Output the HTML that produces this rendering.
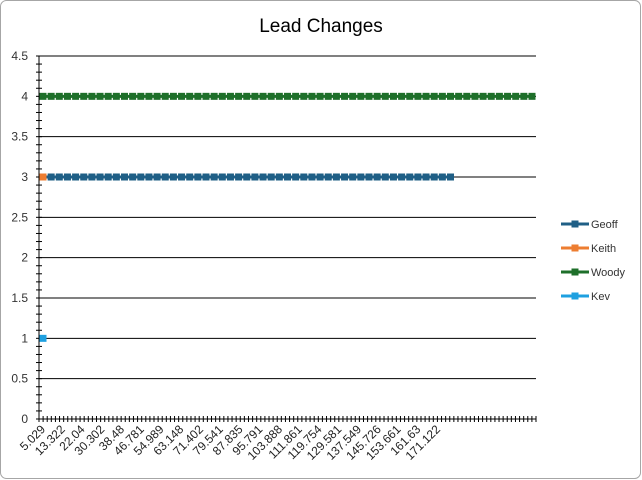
<!DOCTYPE html>
<html><head><meta charset="utf-8"><style>
html,body{margin:0;padding:0;background:#fff;}
svg{display:block;font-family:"Liberation Sans",sans-serif;}
</style></head><body>
<svg id="c" width="642" height="480" viewBox="0 0 642 480" xmlns="http://www.w3.org/2000/svg">
<rect x="0.5" y="0.5" width="640" height="478" rx="6" fill="#fff" stroke="#a6a6a6" stroke-width="1"/>
<text x="321" y="32" text-anchor="middle" font-size="19" fill="#000">Lead Changes</text>
<g id="grid"></g>
<g id="yl" font-size="12" fill="#333" text-anchor="end"></g>
<g id="xl" font-size="12" fill="#222"></g>
<g id="ser"></g>
<g font-size="11" fill="#333">
<line x1="561" y1="224" x2="589" y2="224" stroke="#1f5f86" stroke-width="3"/><rect x="571.5" y="220.5" width="7" height="7" fill="#1f5f86"/><text x="591" y="228">Geoff</text>
<line x1="561" y1="248" x2="589" y2="248" stroke="#ed7d31" stroke-width="3"/><rect x="571.5" y="244.5" width="7" height="7" fill="#ed7d31"/><text x="591" y="252">Keith</text>
<line x1="561" y1="272" x2="589" y2="272" stroke="#1e6f2a" stroke-width="3"/><rect x="571.5" y="268.5" width="7" height="7" fill="#1e6f2a"/><text x="591" y="276">Woody</text>
<line x1="561" y1="296" x2="589" y2="296" stroke="#1ea0e0" stroke-width="3"/><rect x="571.5" y="292.5" width="7" height="7" fill="#1ea0e0"/><text x="591" y="300">Kev</text>
</g>
</svg>
<script>
var NS="http://www.w3.org/2000/svg";
function el(p,t,a,txt){var e=document.createElementNS(NS,t);for(var k in a)e.setAttribute(k,a[k]);if(txt!=null)e.textContent=txt;document.getElementById(p).appendChild(e);return e;}
var x0=39,x1=536,y0=419,yTop=56,py=(y0-yTop)/4.5;
function Y(v){return y0-v*py;}
for(var i=0;i<=9;i++){var v=i*0.5,y=Y(v);
 el("grid","line",{x1:x0,x2:x1,y1:y,y2:y,stroke:"#000","stroke-width":1});
 el("yl","text",{x:28,y:y+4},(v%1==0?v.toFixed(0):v.toFixed(1)));}
el("grid","line",{x1:x0,x2:x0,y1:yTop,y2:y0,stroke:"#000","stroke-width":1});
for(var i=0;i<=45;i++){var y=Y(i*0.1);el("grid","line",{x1:x0-3,x2:x0+3,y1:y,y2:y,stroke:"#000","stroke-width":1});}
var cw=(x1-x0)/121;
for(var i=0;i<=121;i++){var x=x0+i*cw;el("grid","line",{x1:x,x2:x,y1:y0-3,y2:y0+3,stroke:"#000","stroke-width":1});}
var labs=["5.029","13.322","22.04","30.302","38.48","46.781","54.989","63.148","71.402","79.541","87.835","95.791","103.888","111.861","119.754","129.581","137.549","145.726","153.661","161.63","171.122"];
var sp=(438-43)/(labs.length-1);
for(var i=0;i<labs.length;i++){var x=43+i*sp;el("xl","text",{x:x+3,y:y0+11,"text-anchor":"end",transform:"rotate(-45 "+(x+3)+" "+(y0+11)+")"},labs[i]);}
function series(v,n,col){var y=Y(v),xe=43+(n-1)*8.15;
 if(n>1)el("ser","line",{x1:43,x2:xe,y1:y,y2:y,stroke:col,"stroke-width":3});
 for(var i=0;i<n;i++){var x=43+i*8.15;el("ser","rect",{x:x-3.5,y:y-3.5,width:7,height:7,fill:col});}}
series(4,61,"#1e6f2a");
series(3,51,"#1f5f86");
series(3,1,"#ed7d31");
series(1,1,"#1ea0e0");
</script>
</body></html>
